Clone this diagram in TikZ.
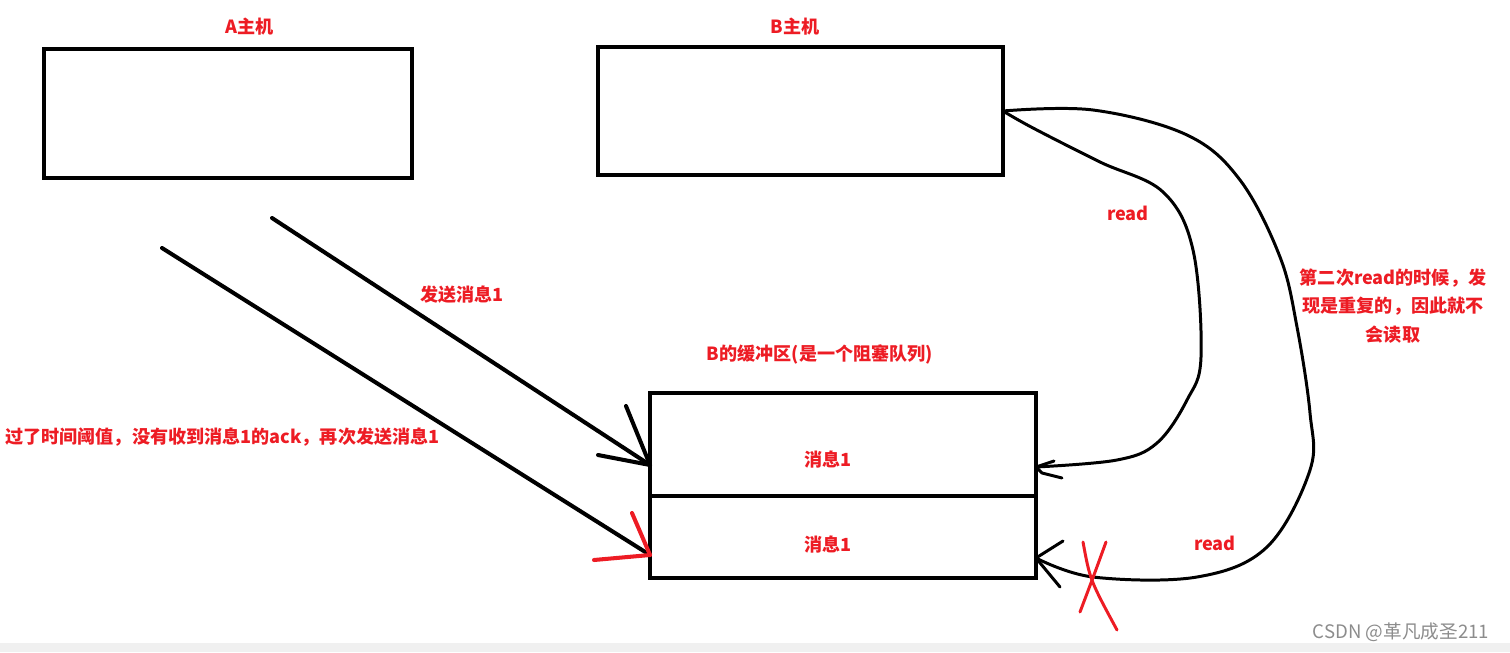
\documentclass[tikz,border=0pt]{standalone}
\usepackage{fontspec}
\setmainfont{Noto Sans CJK SC}
\usetikzlibrary{calc}
\definecolor{paintred}{RGB}{237,28,36}
\tikzset{
  box/.style={draw, line width=2.3pt, inner sep=0pt, outer sep=0pt},
  lbl/.style={text=paintred, font=\bfseries\fontsize{10.3pt}{12pt}\selectfont, inner sep=0pt},
  pen/.style={line width=2.3pt, line cap=round, line join=round},
  curve/.style={line width=1.7pt, line cap=round, line join=round},
}
\begin{document}
\begin{tikzpicture}[x=0.02cm, y=-0.02cm]
  \useasboundingbox (0,0) rectangle (1510,652);
  \fill[black!6] (0,643) rectangle (1510,652);
  % los hosts
  \node[box, minimum width=7.36cm, minimum height=2.58cm] (hostA) at (228,113.5) {};
  \node[box, minimum width=8.1cm, minimum height=2.56cm] (hostB) at (800.5,111) {};
  \node[lbl] (labA) at (250,27) {A主机};
  \node[lbl] (labB) at (795,27) {B主机};
  % el buffer
  \node[box, minimum width=7.72cm, minimum height=2.06cm] (msgA) at (843,444.5) {};
  \node[box, minimum width=7.72cm, minimum height=1.64cm] (msgB) at (843,537) {};
  \node[lbl] (labBuf) at (820,354) {B的缓冲区(是一个阻塞队列)};
  \node[lbl] (txtA) at (828,460) {消息1};
  \node[lbl] (txtB) at (828,545) {消息1};
  % primer envio
  \coordinate (startA) at (272,218);
  \coordinate (tipA) at (msgA.west |- 0,465);
  \draw[pen] (startA) -- (tipA);
  \draw[pen] (tipA) -- (626,406);
  \draw[pen] (tipA) -- (598,455);
  \node[lbl] (labSend) at (462,295) {发送消息1};
  % reenvio
  \coordinate (startB) at (162,248);
  \coordinate (tipB) at (msgB.west |- 0,555);
  \draw[pen] (startB) -- (tipB);
  \draw[pen, paintred] (tipB) -- (632,513);
  \draw[pen, paintred] (tipB) -- (594,560);
  \node[lbl, anchor=west] (labRe) at (5,437) {过了时间阈值，没有收到消息1的ack，再次发送消息1};
  % primer read
  \coordinate (tipC) at (msgA.east |- 0,467);
  \draw[curve] plot[smooth, tension=0.6] coordinates {(hostB.east) (1033,128) (1100,162)
    (1163,192) (1193,250) (1201,357) (1187,400) (1157,443) (1117,460) (tipC)};
  \draw[curve] (tipC) -- (1054,461);
  \draw[curve] (tipC) -- ++(6,6) -- (1062,478);
  \node[lbl] (read1) at (1128,213) {read};
  % segundo read
  \coordinate (tipD) at (msgB.east |- 0,558);
  \draw[curve] plot[smooth, tension=0.6] coordinates {(hostB.east) (1093,110) (1187,135)
    (1240,180) (1280,257) (1297,327) (1310,413) (1310,470) (1267,547) (1197,577)
    (1093,577) (tipD)};
  \draw[curve] (tipD) -- (1063,541);
  \draw[curve] (tipD) -- (1060,587);
  \node[lbl] (read2) at (1215,543) {read};
  % la cruz
  \draw[curve, paintred] (1083,542) .. controls (1090,580) .. (1117,630);
  \draw[curve, paintred] (1106,542) .. controls (1094,575) .. (1080,612);
  \node[lbl, align=center, text width=3.9cm] (labNote) at (1393,306)
    {第二次read的时候，发\\[4pt]现是重复的，因此就不\\[4pt]会读取};
  % marca de agua
  \node[text=black!45, font=\fontsize{10.6pt}{12pt}\selectfont, inner sep=0pt] (mark) at (1401,632)
    {CSDN @革凡成圣211};
\end{tikzpicture}
\end{document}
